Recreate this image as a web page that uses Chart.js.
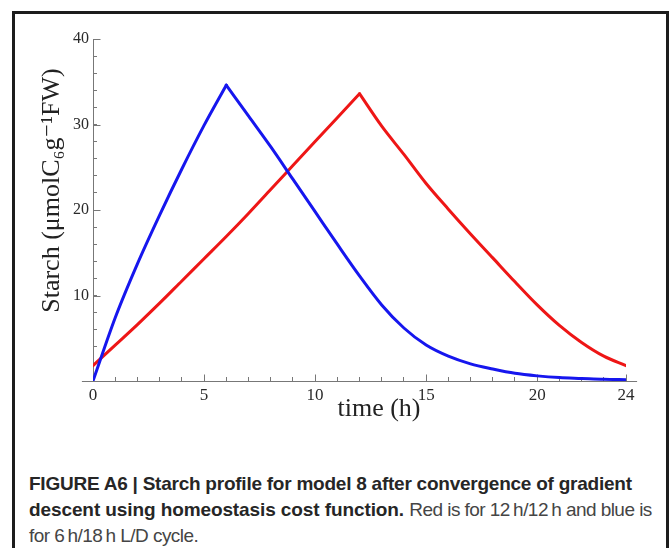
<!DOCTYPE html>
<html>
<head>
<meta charset="utf-8">
<script src="https://cdn.jsdelivr.net/npm/chart.js@4"></script>
<style>
  body { margin: 0; background: #fff; width: 671px; height: 548px; overflow: hidden; position: relative; }
  #frame { position: absolute; left: 12px; top: 11px; width: 651px; height: 560px; border: 3px solid #1c1c1c; }
  canvas { position: absolute; left: 0; top: 0; }
  #cap { position: absolute; left: 29px; top: 471px; font-family: "Liberation Sans", Arial, sans-serif;
         font-size: 19px; line-height: 26px; color: #454545; white-space: nowrap; }
  #cap b { color: #262626; }
  #cap .r { letter-spacing: -0.55px; }
</style>
</head>
<body>
<div id="frame"></div>
<canvas id="chart" width="671" height="450"></canvas>
<div id="cap">
  <b style="letter-spacing:-0.24px">FIGURE A6 | Starch profile for model 8 after convergence of gradient</b><br>
  <b style="letter-spacing:-0.1px">descent using homeostasis cost function.</b> <span class="r">Red is for 12&thinsp;h/12&thinsp;h and blue is</span><br>
  <span class="r">for 6&thinsp;h/18&thinsp;h L/D cycle.</span>
</div>
<script>
// hours of the day
const hours = [0, 1, 2, 3, 4, 5, 6, 7, 8, 9, 10, 11, 12, 13, 14, 15, 16, 17, 18, 19, 20, 21, 22, 23, 24]
// 12h/12h L/D (red), peak at 12 h
const red = [1.8, 4.2, 6.6, 9.1, 11.7, 14.3, 16.9, 19.6, 22.4, 25.2, 28.0, 30.8, 33.6,
             29.8, 26.5, 23.1, 20.1, 17.2, 14.4, 11.6, 8.9, 6.5, 4.5, 2.9, 1.8]
// 6h/18h L/D (blue), peak at 6 h
const blue = [0, 7.4, 13.7, 19.4, 24.8, 29.9, 34.6, 31.0, 27.4, 23.6, 19.8, 16.0, 12.3,
              8.9, 6.2, 4.2, 2.9, 2.0, 1.4, 0.9, 0.6, 0.4, 0.3, 0.2, 0.15]
const redPeak = 12
const bluePeak = 6
const xTickLabels = [0, 5, 10, 15, 20, 24]
const yTickLabels = [10, 20, 30, 40]

const axisColor = "#777"
const serif = "'Liberation Serif', 'DejaVu Serif', serif"

const pts = (vals, from, to) => hours.slice(from, to + 1).map((h, i) => ({x: h, y: vals[from + i]}))

// each curve is drawn as a rising and a falling piece so the peak stays sharp
const piece = (data, color, order) => ({
    data: data,
    borderColor: color,
    borderWidth: 3,
    pointRadius: 0,
    cubicInterpolationMode: 'monotone',
    borderCapStyle: 'round',
    order: order
})

// longer major ticks and the x axis line running a bit past both ends
const axisExtras = {
    id: 'axisExtras',
    beforeDatasetsDraw(chart) {
        const c = chart.ctx
        const x = chart.scales.x, y = chart.scales.y
        const yb = Math.round(y.getPixelForValue(0)) + 0.5
        const xl = Math.round(x.getPixelForValue(0)) + 0.5
        c.save()
        c.strokeStyle = axisColor
        c.lineWidth = 1
        c.beginPath()
        c.moveTo(x.getPixelForValue(-0.5), yb)
        c.lineTo(x.getPixelForValue(24.5), yb)
        xTickLabels.forEach(v => {
            const px = Math.round(x.getPixelForValue(v)) + 0.5
            c.moveTo(px, yb)
            c.lineTo(px, yb - 7)
        })
        yTickLabels.forEach(v => {
            const py = Math.round(y.getPixelForValue(v)) + 0.5
            c.moveTo(xl, py)
            c.lineTo(xl + 7, py)
        })
        c.stroke()
        c.restore()
    }
}

const ctx = document.getElementById('chart').getContext('2d')
new Chart(ctx, {
    type: 'line',
    data: {
        datasets: [
            piece(pts(blue, 0, bluePeak), '#1616ee', 0),
            piece(pts(blue, bluePeak, 24), '#1616ee', 0),
            piece(pts(red, 0, redPeak), '#ee1616', 1),
            piece(pts(red, redPeak, 24), '#ee1616', 1)
        ]
    },
    options: {
        responsive: false,
        animation: false,
        layout: {padding: {left: 37, right: 45, top: 39, bottom: 25}},
        plugins: {legend: {display: false}, tooltip: {enabled: false}},
        scales: {
            x: {
                type: 'linear',
                min: 0,
                max: 24,
                afterFit: s => { s.height = 44 },
                afterBuildTicks: s => { s.ticks = hours.map(v => ({value: v})) },
                ticks: {
                    autoSkip: false,
                    maxRotation: 0,
                    padding: 8,
                    color: '#2a2a2a',
                    font: {family: serif, size: 17},
                    callback: v => xTickLabels.includes(v) ? String(v) : ''
                },
                grid: {drawOnChartArea: false, drawTicks: true, tickLength: -4, color: axisColor},
                border: {display: true, color: axisColor, width: 1},
                title: {
                    display: true,
                    text: '      time (h)',
                    color: '#222',
                    padding: 0,
                    font: {family: serif, size: 26}
                }
            },
            y: {
                min: 0,
                max: 40,
                afterFit: s => { s.width = 56 },
                ticks: {
                    stepSize: 2,
                    autoSkip: false,
                    padding: 8,
                    color: '#2a2a2a',
                    font: {family: serif, size: 16},
                    callback: v => yTickLabels.includes(v) ? String(v) : ''
                },
                grid: {drawOnChartArea: false, drawTicks: true, tickLength: -4, color: axisColor},
                border: {display: true, color: axisColor, width: 1},
                title: {
                    display: true,
                    text: '      Starch (\u03bcmolC\u2086g\u207b\u00b9FW)',
                    color: '#222',
                    padding: 0,
                    font: {family: serif, size: 26}
                }
            }
        }
    },
    plugins: [axisExtras]
})
</script>
</body>
</html>
